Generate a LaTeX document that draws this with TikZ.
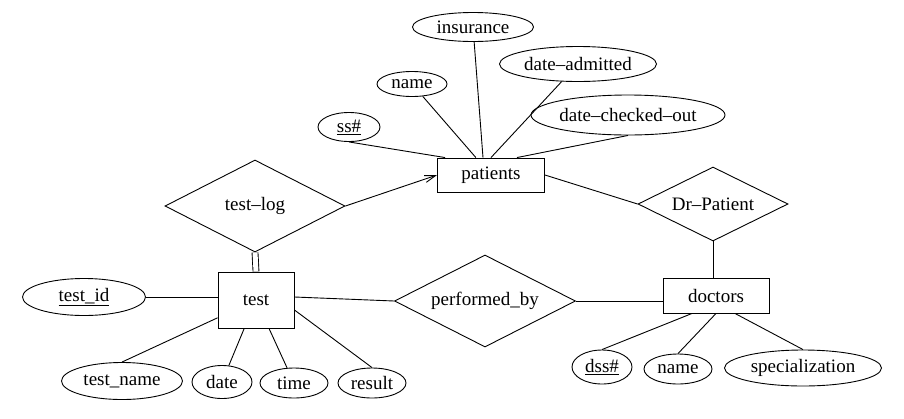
\documentclass[tikz,border=0pt]{standalone}
\usepackage{fontspec}
\setmainfont{Liberation Serif}
\usepackage{tikz}
\usetikzlibrary{shapes.geometric,arrows.meta,positioning}

\begin{document}
\begin{tikzpicture}[x=1pt,y=-1pt,line width=0.9pt,>={Straight Barb[length=11pt,width=7pt]},
  font=\fontsize{19}{22}\selectfont,
  entnode/.style={rectangle,draw,inner sep=0pt},
  relnode/.style={diamond,draw,aspect=2,inner sep=0pt},
  attrnode/.style={ellipse,draw,inner sep=0pt}]

\useasboundingbox (0,0) rectangle (904,418);

% entities
\node [entnode,minimum width=107,minimum height=34] (patients) at (491,175) {patients};
\node [entnode,minimum width=106,minimum height=35] (doctors) at (716,295.5) {doctors};
\node [entnode,minimum width=76,minimum height=56] (test) at (256,300) {test};

% relationships
\node [relnode,minimum width=180,minimum height=92] (testlog) at (255,206) {test--log};
\node [relnode,minimum width=150,minimum height=74] (drpatient) at (713,204) {Dr--Patient};
\node [relnode,minimum width=181,minimum height=92] (performedby) at (485,301) {performed\_by};

% attributes of patients
\node [attrnode,minimum width=121,minimum height=29] (insurance) at (473,27) {insurance};
\node [attrnode,minimum width=70,minimum height=25] (pname) at (412,84) {name};
\node [attrnode,minimum width=157,minimum height=35] (dadmitted) at (578,64) {date--admitted};
\node [attrnode,minimum width=62,minimum height=29] (ssn) at (349,127) {\underline{ss\#}};
\node [attrnode,minimum width=147,minimum height=40] (dchecked) at (628,115) {date--checked--out};

% attributes of doctors
\node [attrnode,minimum width=60,minimum height=34] (dssn) at (602,367) {\underline{dss\#}};
\node [attrnode,minimum width=68,minimum height=30] (dname) at (678,369) {name};
\node [attrnode,minimum width=157,minimum height=36] (spec) at (803,368) {specialization};

% attributes of test
\node [attrnode,minimum width=123,minimum height=37] (testid) at (84,297) {\underline{test\_id}};
\node [attrnode,minimum width=121,minimum height=37] (testname) at (122,381) {test\_name};
\node [attrnode,minimum width=60,minimum height=33] (date) at (222,382) {date};
\node [attrnode,minimum width=68,minimum height=30] (time) at (294,383) {time};
\node [attrnode,minimum width=68,minimum height=30] (result) at (372,383) {result};

\draw (ssn.south) to ([xshift=8]patients.north west);
\draw (pname) to (patients);
\draw (insurance) to ([xshift=-8]patients.north);
\draw (dadmitted) to (patients.north);
\draw (dchecked.south) to ([xshift=26]patients.north);

\draw [->] (testlog.east) to (patients.west);
\draw (patients.east) to (drpatient.west);
\draw (drpatient.south) to (drpatient.south |- doctors.north);
\draw [double,double distance=5pt] (testlog.south) to (test.north);
\draw ([yshift=3]test.east) to (performedby.west);
\draw (performedby.east) to (performedby.east -| doctors.west);

\draw (dssn.north) to ([xshift=-24]doctors.south);
\draw (dname.north) to (doctors.south);
\draw (spec.north) to ([xshift=19]doctors.south);

\draw (testid) to ([yshift=3]test.west);
\draw (testname.north) to (test);
\draw (date) to (test);
\draw (time) to (test);
\draw (result.north) to ([yshift=-10]test.east);
\end{tikzpicture}
\end{document}
